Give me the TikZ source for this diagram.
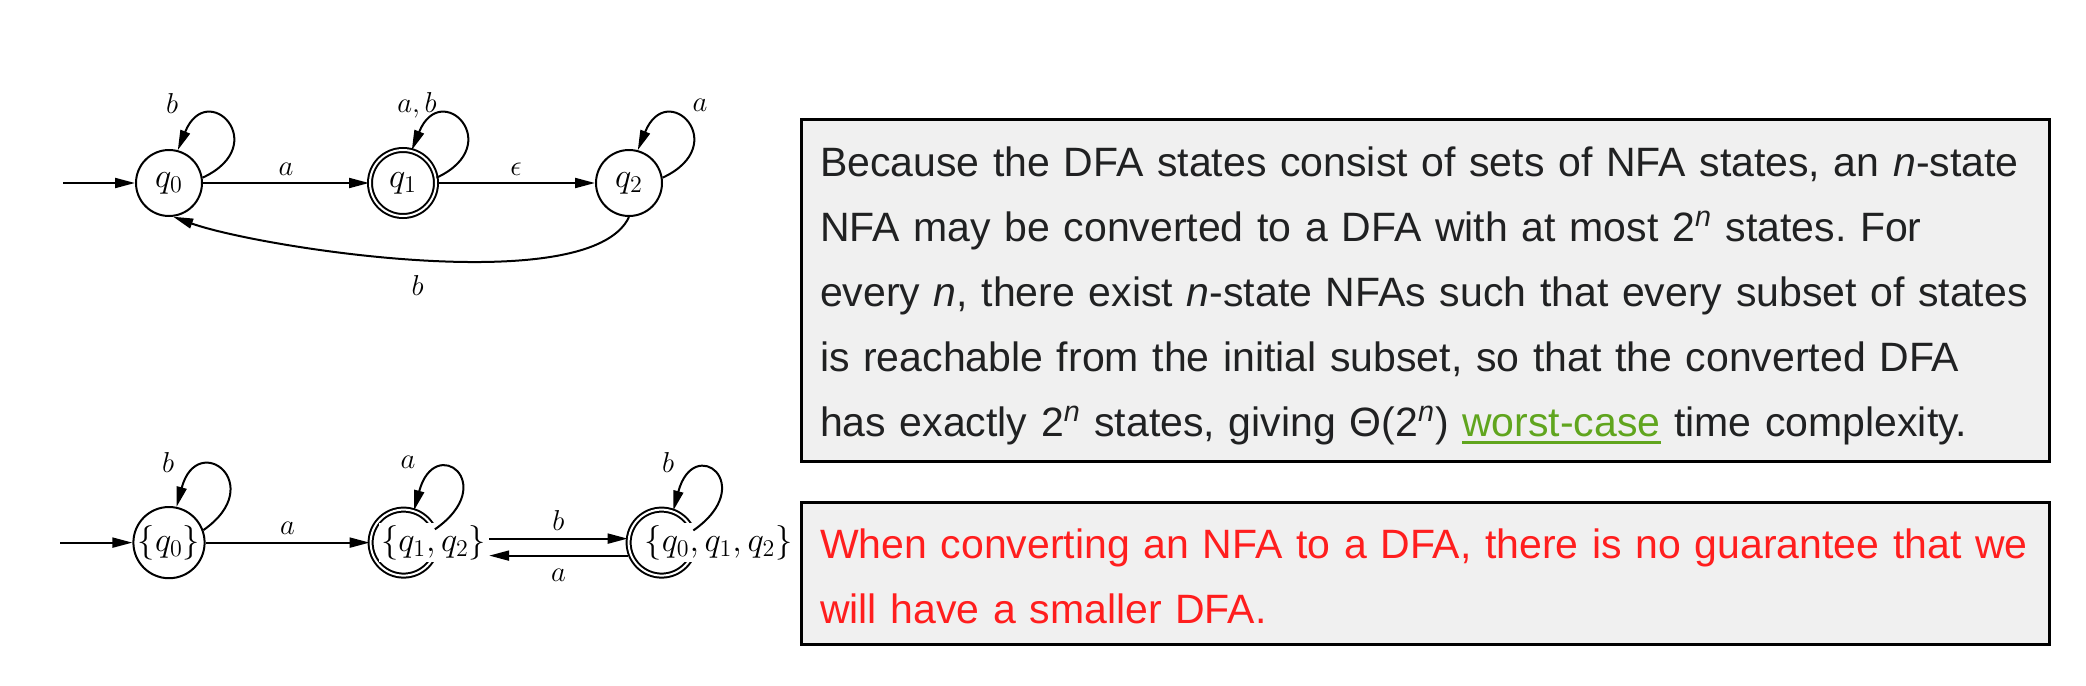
\documentclass[tikz,border=0pt]{standalone}
\usepackage{fontspec}
\usepackage{amsmath, amssymb}
\usetikzlibrary{arrows.meta, positioning}
\newfontfamily\boxfont{Liberation Sans}
\definecolor{boxgray}{RGB}{240,240,240}
\definecolor{textgray}{RGB}{32,33,34}
\definecolor{linkgreen}{RGB}{96,165,30}
\definecolor{warnred}{RGB}{255,30,30}
\newsavebox{\linkbox}
\newcommand{\linkword}[1]{{\color{linkgreen}\sbox{\linkbox}{#1}%
  \rlap{\rule[-3.5pt]{\wd\linkbox}{1.4pt}}\usebox{\linkbox}}}
\frenchspacing

\begin{document}
\begin{tikzpicture}[>={Triangle[length=10pt, width=5pt]}, line width=1pt,
  x=0.5pt, y=0.5pt,
  statenode/.style={draw, circle, minimum size=33pt, inner sep=0pt,
                    font=\fontsize{16.5}{19}\selectfont},
  acceptnode/.style={statenode, double, double distance=1pt},
  setlabel/.style={fill=white, inner sep=1pt, font=\fontsize{16.5}{19}\selectfont},
  lbl/.style={font=\fontsize{15.5}{18}\selectfont},
  selfloop/.style={out=25, in=68, distance=39pt},
  setloop/.style={out=35, in=75, distance=40pt},
  textbox/.style={draw, line width=1.5pt, fill=boxgray, anchor=north west,
                  minimum width=624pt},
  boxtext/.style={anchor=base west, inner sep=0pt, text width=615pt, align=left,
                  font=\boxfont\fontsize{20.5}{32.5}\selectfont}]
  \useasboundingbox (0,0) rectangle (2086,-685);

  % NFA
  \node[statenode] (q0) at (169,-183) {$q_0$};
  \node[acceptnode, right=83pt of q0] (q1) {$q_1$};
  \node[statenode, right=79pt of q1] (q2) {$q_2$};
  \coordinate[left=36pt of q0] (init0);

  \node[lbl] (q0loop) at (172,-103) {$b$};
  \node[lbl] (q1loop) at (417,-105) {$a, b$};
  \node[lbl] (q2loop) at (700,-105) {$a$};

  \draw[->] (init0) -- (q0);
  \draw[->] (q0) -- node[lbl, above] {$a$} (q1);
  \draw[->] (q1) -- node[lbl, above] {$\epsilon$} (q2);
  \draw[->] (q2.south) to[out=-115, in=-20, out distance=46pt, in distance=44pt]
    node[lbl, below=4pt] {$b$} (q0.-83);
  \draw[->] (q0.9) to[selfloop] (q0.75);
  \draw[->] (q1.9) to[selfloop] (q1.75);
  \draw[->] (q2.9) to[selfloop] (q2.75);

  % DFA from the subset construction
  \node[statenode, below=144.5pt of q0] (d0) {$\{q_0\}$};
  \node[acceptnode, right=82pt of d0] (d12) {};
  \node[acceptnode, right=95pt of d12] (d012) {};
  \coordinate[left=36pt of d0] (init1);
  \node[setlabel] (d12lbl) at ([xshift=15pt]d12.center) {$\{q_1, q_2\}$};
  \node[setlabel] (d012lbl) at ([xshift=28.5pt]d012.center) {$\{q_0, q_1, q_2\}$};

  \node[lbl] (d0loop) at (168,-462) {$b$};
  \node[lbl] (d12loop) at (408,-462) {$a$};
  \node[lbl] (d012loop) at (668,-462) {$b$};

  \draw[->] (init1) -- (d0);
  \draw[->] (d0) -- node[lbl, above] {$a$} (d12);
  \draw[->] ([yshift=2pt]d12lbl.east) -- node[lbl, above] {$b$} ([yshift=2pt]d012.west);
  \draw[->] ([yshift=-6.5pt]d012.west) -- node[lbl, below=3pt] {$a$} ([yshift=-6.5pt]d12lbl.east);
  \draw[->] (d0.20) to[setloop] (d0.78);
  \draw[->] (d12.23) to[setloop] (d12.72);
  \draw[->] (d012.21) to[setloop] (d012.70);

  % explanation boxes
  \node[textbox, minimum height=171pt] (nfabox) at (800,-118) {};
  \node[boxtext, text=textgray] (nfatext) at (819,-176.7)
    {Because the DFA states consist of sets of NFA states, an \textit{n}-state\\
     NFA may be converted to a DFA with at most 2\textsuperscript{\textit{n}} states. For\\
     every \textit{n}, there exist \textit{n}-state NFAs such that every subset of states\\
     is reachable from the initial subset, so that the converted DFA\\
     has exactly 2\textsuperscript{\textit{n}} states, giving Θ(2\textsuperscript{\textit{n}})
     \linkword{worst-case} time complexity.};
  \node[textbox, minimum height=71pt] (warnbox) at (800,-501) {};
  \node[boxtext, text=warnred] (warntext) at (819,-558)
    {When converting an NFA to a DFA, there is no guarantee that we\\
     will have a smaller DFA.};
\end{tikzpicture}
\end{document}
